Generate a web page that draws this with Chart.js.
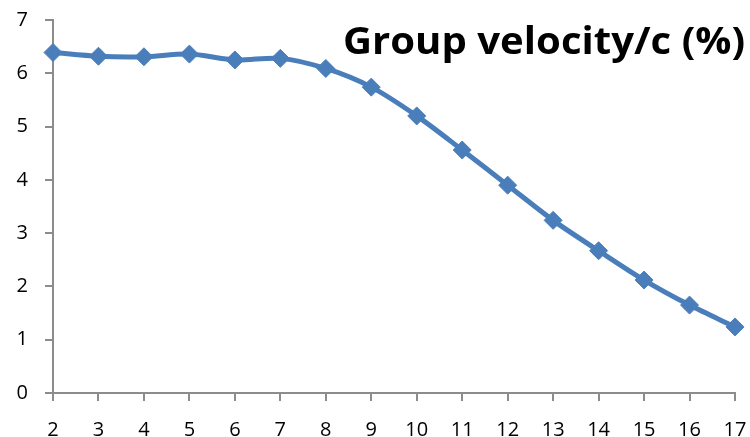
<!DOCTYPE html>
<html>
<head>
<meta charset="utf-8">
<script src="https://cdn.jsdelivr.net/npm/chart.js@4/dist/chart.umd.min.js"></script>
<style>
  html, body { margin: 0; padding: 0; background: #ffffff; }
  #wrap { position: relative; width: 750px; height: 437px; }
</style>
</head>
<body>
<div id="wrap"><canvas id="chart" width="750" height="437"></canvas></div>
<script>
// Mode number along the x axis
const categories = ['2', '3', '4', '5', '6', '7', '8', '9', '10', '11', '12', '13', '14', '15', '16', '17'];
// Group velocity as a percentage of c
const groupVelocity = [6.39, 6.32, 6.31, 6.36, 6.25, 6.28, 6.09, 5.74, 5.20, 4.56, 3.90, 3.24, 2.67, 2.12, 1.65, 1.24];
// Y axis range and step
const yTicks = [0, 1, 2, 3, 4, 5, 6, 7];
const chartTitle = 'Group velocity/c (%)';

const BLUE = '#4a7ebb';
const AXIS = '#8c8c8c';
const FONT = '"Open Sans", Lato, sans-serif';

// Category labels under the x axis, placed at the scale's own tick pixels
const xLabelPlugin = {
  id: 'xCategoryLabels',
  afterDraw(chart) {
    const scale = chart.scales.x;
    const ctx = chart.ctx;
    ctx.save();
    ctx.font = '20px ' + FONT;
    ctx.fillStyle = '#000000';
    ctx.textAlign = 'center';
    ctx.textBaseline = 'middle';
    scale.ticks.forEach((tick, i) => {
      const x = scale.getPixelForTick(i);
      ctx.fillText(scale.getLabelForValue(tick.value), x, scale.top + 37);
    });
    ctx.restore();
  }
};

// Title drawn over the upper-right part of the plot
const titlePlugin = {
  id: 'cornerTitle',
  afterDraw(chart) {
    const ctx = chart.ctx;
    ctx.save();
    ctx.font = 'bold 37px ' + FONT;
    ctx.fillStyle = '#000000';
    ctx.textBaseline = 'alphabetic';
    ctx.textAlign = 'left';
    const targetW = 402;
    const w = ctx.measureText(chartTitle).width;
    const sx = targetW / w;
    ctx.translate(745 - w * sx, 54);
    ctx.scale(sx, 1);
    ctx.fillText(chartTitle, 0, 0);
    ctx.restore();
  }
};

new Chart(document.getElementById('chart'), {
  type: 'line',
  data: {
    labels: categories,
    datasets: [{
      data: groupVelocity,
      borderColor: BLUE,
      backgroundColor: BLUE,
      borderWidth: 5,
      tension: 0.3,
      pointStyle: 'rectRot',
      pointRadius: 9,
      pointHoverRadius: 9,
      pointBackgroundColor: BLUE,
      pointBorderColor: BLUE,
      pointBorderWidth: 1,
      clip: false
    }]
  },
  options: {
    responsive: false,
    animation: false,
    events: [],
    layout: { padding: { left: 0, right: 15, top: 20, bottom: 0 } },
    plugins: {
      legend: { display: false },
      tooltip: { enabled: false },
      title: { display: false }
    },
    scales: {
      x: {
        type: 'category',
        offset: false,
        grid: { display: true, drawOnChartArea: false, drawTicks: true, tickLength: 8, color: AXIS, lineWidth: 2 },
        border: { display: true, color: AXIS, width: 2 },
        ticks: { display: false, autoSkip: false, maxRotation: 0 },
        afterFit(scale) { scale.height = 44; }
      },
      y: {
        min: yTicks[0],
        max: yTicks[yTicks.length - 1],
        afterBuildTicks(scale) { scale.ticks = yTicks.map(v => ({ value: v })); },
        grid: { display: true, drawOnChartArea: false, drawTicks: true, tickLength: 8, color: AXIS, lineWidth: 2 },
        border: { display: true, color: AXIS, width: 2 },
        ticks: { color: '#000000', font: { family: FONT, size: 20 }, padding: 17 },
        afterFit(scale) {
          scale.width = 53;
          scale.paddingTop = 0;
          scale.paddingBottom = 0;
        }
      }
    }
  },
  plugins: [xLabelPlugin, titlePlugin]
});
</script>
</body>
</html>
